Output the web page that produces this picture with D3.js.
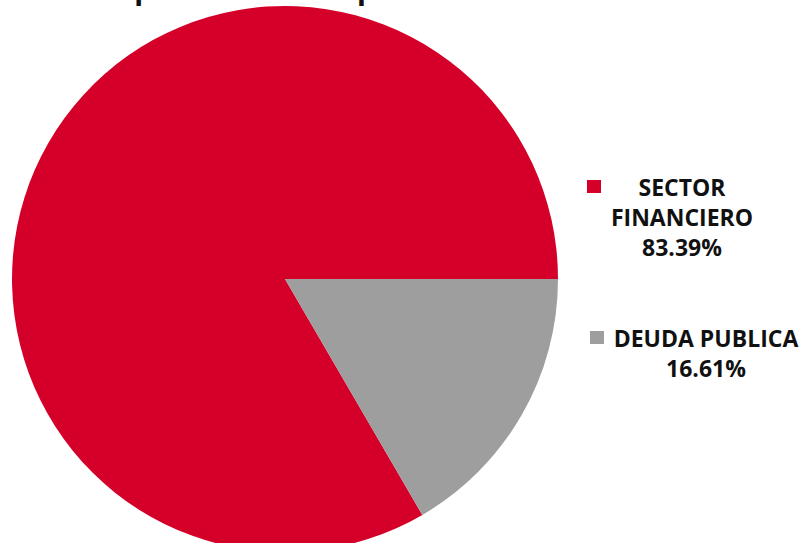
<html>
<head>
    <script src="https://d3js.org/d3.v7.min.js" charset="utf-8"></script>
</head>

<body style="margin:0">
    <script type="text/javascript">
        var width = 799;
        var height = 543;

        // Data
        var categories = ["SECTOR FINANCIERO", "DEUDA PUBLICA"];
        var values = [83.39, 16.61];
        var labelLines = [["SECTOR", "FINANCIERO", "83.39%"], ["DEUDA PUBLICA", "16.61%"]];
        var colors = ["#d40029", "#9e9e9e"];

        var svg = d3.select("body").append("svg")
            .attr("width", width)
            .attr("height", height)
            .style("display", "block")
            .style("font-family", "'Open Sans', sans-serif");

        // title, mostly cut off at the top edge
        svg.append("text")
            .attr("x", 6)
            .attr("y", 0)
            .attr("font-size", 36)
            .attr("font-family", "Lato, sans-serif")
            .attr("font-weight", "bold")
            .attr("fill", "#111")
            .text("Cartera por sector o tipo de emisor de las inversiones");

        var radius = 273;
        var g = svg.append("g")
            .attr("transform", "translate(285,279)");

        var color = d3.scaleOrdinal().domain(categories).range(colors);

        var pie = d3.pie()
            .value(d => d.value)
            .sort((a, b) => a.value - b.value)
            .startAngle(Math.PI / 2)
            .endAngle(Math.PI / 2 + 2 * Math.PI);

        var data = categories.map((c, i) => ({ name: c, value: values[i] }));

        var arc = d3.arc().innerRadius(0).outerRadius(radius);

        g.selectAll("path")
            .data(pie(data))
            .join("path")
            .attr("d", arc)
            .attr("fill", d => color(d.data.name));

        // Legend
        var legendPos = [{ sx: 587, sy: 180, cx: 682, y0: 196 }, { sx: 590, sy: 331, cx: 706, y0: 347 }];
        var legend = svg.append("g");
        data.forEach(function(d, i) {
            var p = legendPos[i];
            legend.append("rect")
                .attr("x", p.sx).attr("y", p.sy)
                .attr("width", 14).attr("height", 13)
                .attr("fill", color(d.name));
            legend.append("text")
                .attr("text-anchor", "middle")
                .attr("font-size", 23)
                .attr("font-weight", "bold")
                .attr("fill", "#111")
                .selectAll("tspan")
                .data(labelLines[i])
                .join("tspan")
                .attr("x", p.cx)
                .attr("y", (t, j) => p.y0 + j * 30)
                .text(t => t);
        });
    </script>
</body>

</html>
